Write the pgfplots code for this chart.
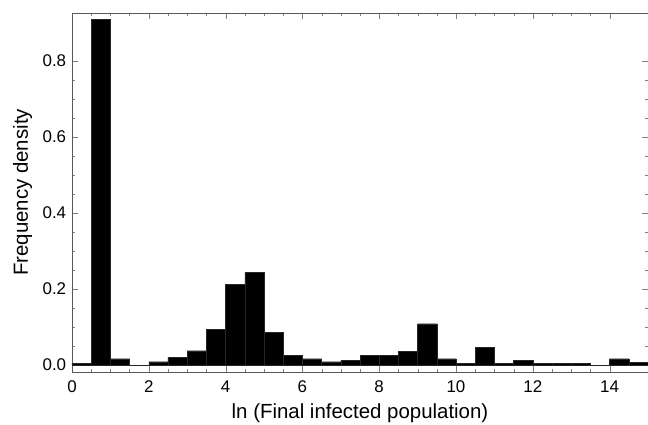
\documentclass[border=0pt]{standalone}
\usepackage{fontspec}
\setmainfont{Liberation Sans}
\usepackage{pgfplots}
\pgfplotsset{compat=1.18}

\begin{document}
\fontsize{17}{20}\selectfont
\begin{tikzpicture}
\begin{axis}[scale only axis,width=576bp,height=359bp,
  xmin=0,xmax=15,ymin=-0.018,ymax=0.926,
  xtick={0,2,...,14},minor x tick num=3,
  ytick={0,0.2,0.4,0.6,0.8},minor y tick num=3,
  tick align=inside,major tick length=6bp,minor tick length=3bp,
  axis line style={gray!70!black},
  /pgf/number format/assume math mode=true,
  yticklabel style={/pgf/number format/.cd,fixed,fixed zerofill,precision=1},
  xticklabel style={yshift=-3bp},
  label style={font=\fontsize{20.5}{24}\selectfont},
  xlabel={ln (Final infected population)},ylabel={Frequency density},
  xlabel style={yshift=1bp},ylabel style={yshift=-1bp}]
\addplot[ybar interval,fill=black,draw=black!85] coordinates {
(0,0.005) (0.5,0.91) (1,0.017) (1.5,0) (2,0.009) (2.5,0.021) (3,0.038)
(3.5,0.094) (4,0.212) (4.5,0.244) (5,0.087) (5.5,0.025) (6,0.017)
(6.5,0.009) (7,0.013) (7.5,0.025) (8,0.025) (8.5,0.037) (9,0.109)
(9.5,0.017) (10,0.004) (10.5,0.046) (11,0.004) (11.5,0.012) (12,0.004)
(12.5,0.004) (13,0.004) (13.5,0) (14,0.017) (14.5,0.008) (15,0.008)};
\end{axis}
\pgfresetboundingbox
\path ([xshift=-72bp,yshift=-52bp]current axis.south west) rectangle ([yshift=13bp]current axis.north east);
\end{tikzpicture}
\end{document}
